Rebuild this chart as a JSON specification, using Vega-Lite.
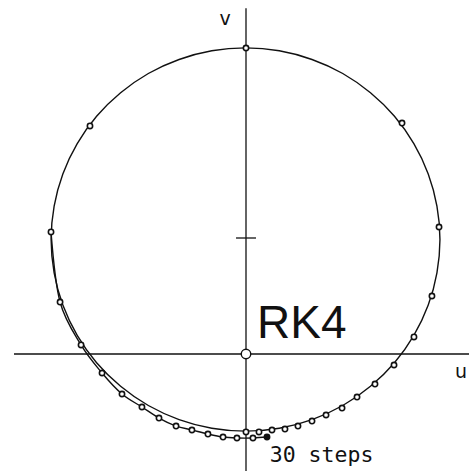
{
  "$schema": "https://vega.github.io/schema/vega-lite/v6.json",
  "width": 469,
  "height": 471,
  "autosize": "none",
  "padding": 0,
  "background": "white",
  "config": {"view": {"stroke": null}},
  "data": {"values": [{}]},
  "datasets": {
    "exact": [
      {"i": 0, "u": 1.672, "v": 0.987}, {"i": 1, "u": 1.646, "v": 1.274}, {"i": 2, "u": 1.571, "v": 1.552},
      {"i": 3, "u": 1.447, "v": 1.813}, {"i": 4, "u": 1.280, "v": 2.049}, {"i": 5, "u": 1.073, "v": 2.252},
      {"i": 6, "u": 0.834, "v": 2.418}, {"i": 7, "u": 0.569, "v": 2.539}, {"i": 8, "u": 0.287, "v": 2.614},
      {"i": 9, "u": -0.004, "v": 2.639}, {"i": 10, "u": -0.295, "v": 2.614}, {"i": 11, "u": -0.577, "v": 2.539},
      {"i": 12, "u": -0.842, "v": 2.418}, {"i": 13, "u": -1.081, "v": 2.252}, {"i": 14, "u": -1.288, "v": 2.049},
      {"i": 15, "u": -1.455, "v": 1.813}, {"i": 16, "u": -1.579, "v": 1.552}, {"i": 17, "u": -1.654, "v": 1.274},
      {"i": 18, "u": -1.680, "v": 0.987}, {"i": 19, "u": -1.654, "v": 0.700}, {"i": 20, "u": -1.579, "v": 0.422},
      {"i": 21, "u": -1.455, "v": 0.161}, {"i": 22, "u": -1.288, "v": -0.075}, {"i": 23, "u": -1.081, "v": -0.278},
      {"i": 24, "u": -0.842, "v": -0.444}, {"i": 25, "u": -0.577, "v": -0.565}, {"i": 26, "u": -0.295, "v": -0.640},
      {"i": 27, "u": -0.004, "v": -0.665}, {"i": 28, "u": 0.287, "v": -0.640}, {"i": 29, "u": 0.569, "v": -0.565},
      {"i": 30, "u": 0.834, "v": -0.444}, {"i": 31, "u": 1.073, "v": -0.278}, {"i": 32, "u": 1.280, "v": -0.075},
      {"i": 33, "u": 1.447, "v": 0.161}, {"i": 34, "u": 1.571, "v": 0.422}, {"i": 35, "u": 1.646, "v": 0.700}
    ],
    "rk4": [
      {"step": 0, "u": 0.0, "v": -0.672}, {"step": 1, "u": 0.112, "v": -0.672}, {"step": 2, "u": 0.224, "v": -0.655},
      {"step": 3, "u": 0.336, "v": -0.647}, {"step": 4, "u": 0.448, "v": -0.621}, {"step": 5, "u": 0.569, "v": -0.578},
      {"step": 6, "u": 0.690, "v": -0.526}, {"step": 7, "u": 0.828, "v": -0.466}, {"step": 8, "u": 0.957, "v": -0.371},
      {"step": 9, "u": 1.112, "v": -0.259}, {"step": 10, "u": 1.276, "v": -0.095}, {"step": 11, "u": 1.448, "v": 0.147},
      {"step": 12, "u": 1.603, "v": 0.500}, {"step": 13, "u": 1.664, "v": 1.095}, {"step": 14, "u": 1.345, "v": 1.991},
      {"step": 15, "u": 0.0, "v": 2.638}, {"step": 16, "u": -1.345, "v": 1.966}, {"step": 17, "u": -1.681, "v": 1.052},
      {"step": 18, "u": -1.603, "v": 0.448}, {"step": 19, "u": -1.422, "v": 0.078}, {"step": 20, "u": -1.241, "v": -0.164},
      {"step": 21, "u": -1.069, "v": -0.345}, {"step": 22, "u": -0.897, "v": -0.457}, {"step": 23, "u": -0.750, "v": -0.552},
      {"step": 24, "u": -0.603, "v": -0.621}, {"step": 25, "u": -0.466, "v": -0.655}, {"step": 26, "u": -0.328, "v": -0.690},
      {"step": 27, "u": -0.198, "v": -0.716}, {"step": 28, "u": -0.078, "v": -0.724}, {"step": 29, "u": 0.060, "v": -0.724},
      {"step": 30, "u": 0.181, "v": -0.716}
    ]
  },
  "layer": [
    {
      "mark": {"type": "rule", "color": "#111", "strokeWidth": 1.3},
      "encoding": {
        "x": {"datum": -2.0, "type": "quantitative", "scale": {"domain": [-2.1207, 1.9224], "nice": false, "zero": false}, "axis": null},
        "x2": {"datum": 1.93},
        "y": {"datum": 0, "type": "quantitative", "scale": {"domain": [-1.0086, 3.0517], "nice": false, "zero": false}, "axis": null}
      }
    },
    {
      "mark": {"type": "rule", "color": "#111", "strokeWidth": 1.3},
      "encoding": {
        "x": {"datum": 0, "type": "quantitative", "scale": {"domain": [-2.1207, 1.9224], "nice": false, "zero": false}, "axis": null},
        "y": {"datum": -1.01, "type": "quantitative", "scale": {"domain": [-1.0086, 3.0517], "nice": false, "zero": false}, "axis": null},
        "y2": {"datum": 2.98}
      }
    },
    {
      "mark": {"type": "rule", "color": "#111", "strokeWidth": 1.3},
      "encoding": {
        "x": {"datum": -0.086, "type": "quantitative", "scale": {"domain": [-2.1207, 1.9224], "nice": false, "zero": false}, "axis": null},
        "x2": {"datum": 0.086},
        "y": {"datum": 1, "type": "quantitative", "scale": {"domain": [-1.0086, 3.0517], "nice": false, "zero": false}, "axis": null}
      }
    },
    {
      "data": {"name": "exact"},
      "mark": {"type": "line", "interpolate": "cardinal-closed", "color": "#111", "strokeWidth": 1.4},
      "encoding": {
        "x": {"field": "u", "type": "quantitative", "scale": {"domain": [-2.1207, 1.9224], "nice": false, "zero": false}, "axis": null},
        "y": {"field": "v", "type": "quantitative", "scale": {"domain": [-1.0086, 3.0517], "nice": false, "zero": false}, "axis": null},
        "order": {"field": "i", "type": "quantitative"}
      }
    },
    {
      "data": {"name": "rk4"},
      "transform": [{"filter": "datum.step >= 17"}],
      "mark": {"type": "line", "interpolate": "cardinal", "color": "#111", "strokeWidth": 1.4},
      "encoding": {
        "x": {"field": "u", "type": "quantitative", "scale": {"domain": [-2.1207, 1.9224], "nice": false, "zero": false}, "axis": null},
        "y": {"field": "v", "type": "quantitative", "scale": {"domain": [-1.0086, 3.0517], "nice": false, "zero": false}, "axis": null},
        "order": {"field": "step", "type": "quantitative"}
      }
    },
    {
      "data": {"name": "rk4"},
      "mark": {"type": "point", "shape": "circle", "size": 28, "stroke": "#111", "strokeWidth": 1.6, "opacity": 1, "filled": false},
      "encoding": {
        "x": {"field": "u", "type": "quantitative", "scale": {"domain": [-2.1207, 1.9224], "nice": false, "zero": false}, "axis": null},
        "y": {"field": "v", "type": "quantitative", "scale": {"domain": [-1.0086, 3.0517], "nice": false, "zero": false}, "axis": null},
        "fill": {"condition": {"test": "datum.step == 30", "value": "#111"}, "value": "white"}
      }
    },
    {
      "mark": {"type": "point", "shape": "circle", "size": 90, "stroke": "#111", "strokeWidth": 1.4, "fill": "white", "opacity": 1, "filled": true},
      "encoding": {
        "x": {"datum": 0, "type": "quantitative", "scale": {"domain": [-2.1207, 1.9224], "nice": false, "zero": false}, "axis": null},
        "y": {"datum": 0, "type": "quantitative", "scale": {"domain": [-1.0086, 3.0517], "nice": false, "zero": false}, "axis": null}
      }
    },
    {
      "mark": {"type": "text", "text": "RK4", "font": "Liberation Sans", "fontSize": 46, "align": "left", "baseline": "alphabetic", "color": "#111"},
      "encoding": {
        "x": {"datum": 0.095, "type": "quantitative", "scale": {"domain": [-2.1207, 1.9224], "nice": false, "zero": false}, "axis": null},
        "y": {"datum": 0.134, "type": "quantitative", "scale": {"domain": [-1.0086, 3.0517], "nice": false, "zero": false}, "axis": null}
      }
    },
    {
      "mark": {"type": "text", "text": "30 steps", "font": "DejaVu Sans Mono", "fontSize": 21.5, "align": "left", "baseline": "alphabetic", "color": "#111"},
      "encoding": {
        "x": {"datum": 0.205, "type": "quantitative", "scale": {"domain": [-2.1207, 1.9224], "nice": false, "zero": false}, "axis": null},
        "y": {"datum": -0.931, "type": "quantitative", "scale": {"domain": [-1.0086, 3.0517], "nice": false, "zero": false}, "axis": null}
      }
    },
    {
      "mark": {"type": "text", "text": "u", "font": "DejaVu Sans", "fontSize": 19, "align": "center", "baseline": "alphabetic", "color": "#111"},
      "encoding": {
        "x": {"datum": 1.853, "type": "quantitative", "scale": {"domain": [-2.1207, 1.9224], "nice": false, "zero": false}, "axis": null},
        "y": {"datum": -0.207, "type": "quantitative", "scale": {"domain": [-1.0086, 3.0517], "nice": false, "zero": false}, "axis": null}
      }
    },
    {
      "mark": {"type": "text", "text": "v", "font": "DejaVu Sans", "fontSize": 19, "align": "center", "baseline": "alphabetic", "color": "#111"},
      "encoding": {
        "x": {"datum": -0.181, "type": "quantitative", "scale": {"domain": [-2.1207, 1.9224], "nice": false, "zero": false}, "axis": null},
        "y": {"datum": 2.836, "type": "quantitative", "scale": {"domain": [-1.0086, 3.0517], "nice": false, "zero": false}, "axis": null}
      }
    }
  ]
}
